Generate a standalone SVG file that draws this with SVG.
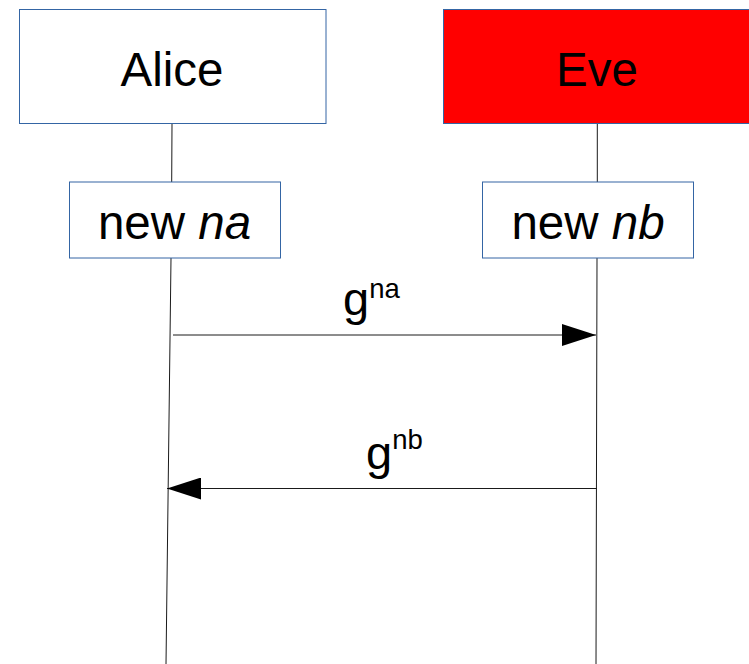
<svg xmlns="http://www.w3.org/2000/svg" width="749" height="664" viewBox="0 0 749 664">
  <defs>
    <style>
      .box { fill: #ffffff; stroke: #3465a4; stroke-width: 1; }
      .actor-red { fill: #ff0000; }
      .label { font-family: "Liberation Sans", Arial, sans-serif; font-size: 47.5px; fill: #000000; text-anchor: middle; }
      .msg { font-family: "Liberation Sans", Arial, sans-serif; font-size: 47px; fill: #000000; }
      .sup { font-size: 27.5px; }
      .life { stroke: #1a1a1a; stroke-width: 1; fill: none; }
      .arrow { stroke: #1a1a1a; stroke-width: 1; fill: none; }
    </style>
    <marker id="head" viewBox="0 0 34 22" refX="34" refY="11" markerWidth="34" markerHeight="22" markerUnits="userSpaceOnUse" orient="auto">
      <path d="M0,0 L34,11 L0,22 Z" fill="#000000"/>
    </marker>
  </defs>

  <!-- lifelines and messages -->
  <g id="connectors">
    <line class="life" x1="172" y1="124" x2="171.7" y2="182"/>
    <line class="life" x1="171" y1="258" x2="166" y2="664"/>
    <line class="life" x1="597.3" y1="124" x2="597.3" y2="182"/>
    <line class="life" x1="597" y1="258" x2="596" y2="664"/>
    <line class="arrow" x1="173" y1="335" x2="596" y2="335" marker-end="url(#head)"/>
    <line class="arrow" x1="597" y1="488.5" x2="167" y2="488.5" marker-end="url(#head)"/>
  </g>

  <g id="alice">
    <rect class="box" x="19.5" y="9.5" width="306.5" height="114"/>
    <text class="label" x="172" y="86">Alice</text>
  </g>

  <g id="eve">
    <rect class="box actor-red" x="443.5" y="9.5" width="310" height="114"/>
    <text class="label" x="597" y="86">Eve</text>
  </g>

  <g id="new-na">
    <rect class="box" x="69.5" y="182" width="211" height="76"/>
    <text class="label" x="174.5" y="239">new <tspan font-style="italic">na</tspan></text>
  </g>

  <g id="new-nb">
    <rect class="box" x="482.5" y="182" width="211" height="76"/>
    <text class="label" x="588" y="239">new <tspan font-style="italic">nb</tspan></text>
  </g>

  <g id="msg-labels">
    <text class="msg" x="343" y="315">g<tspan class="sup" dy="-17">na</tspan></text>
    <text class="msg" x="366" y="469">g<tspan class="sup" dy="-20">nb</tspan></text>
  </g>
</svg>
